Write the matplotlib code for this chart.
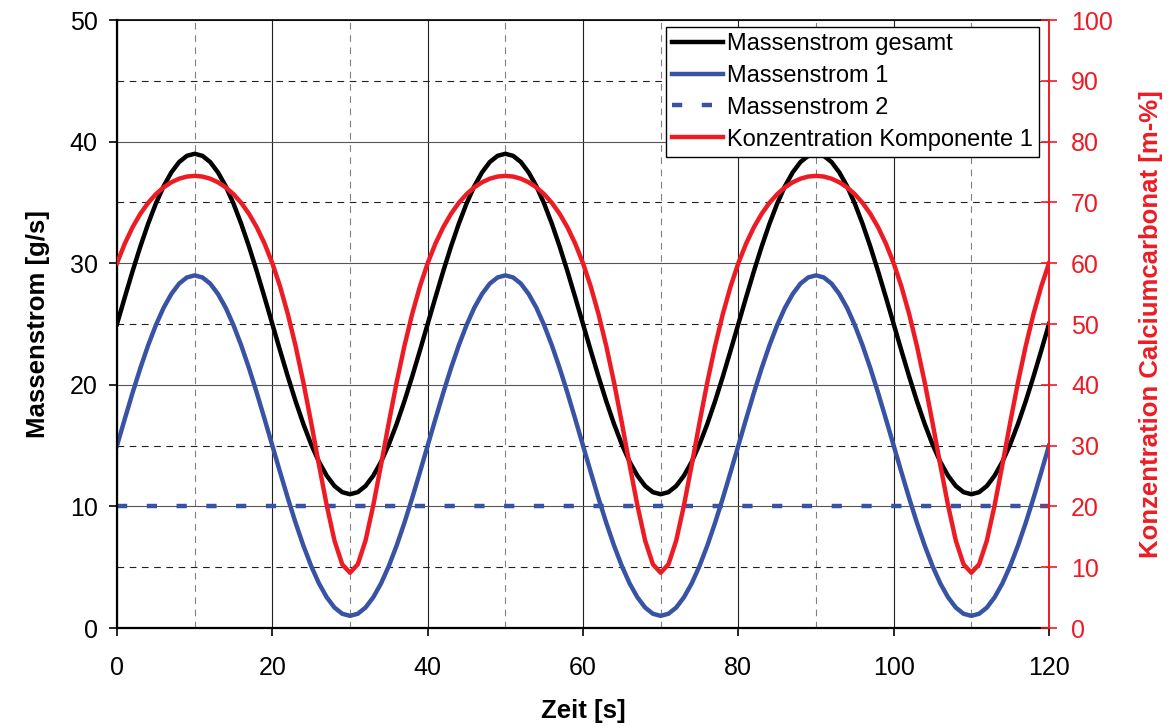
"""Massenstrom und Konzentration ueber der Zeit (zwei y-Achsen)."""
import numpy as np
import matplotlib
matplotlib.use("Agg")
import matplotlib.pyplot as plt
from matplotlib.ticker import MultipleLocator

SCHWARZ = "#000000"
BLAU = "#3953a4"
ROT = "#ed1c24"

plt.rcParams.update({
    "font.family": ["Liberation Sans", "DejaVu Sans"],
    "font.size": 18,
})

zeit = np.arange(0, 121)

massenstrom_1 = [
    15.00, 17.19, 19.33, 21.36, 23.23, 24.90, 26.33, 27.47, 28.32, 28.83,
    29.00, 28.83, 28.32, 27.47, 26.33, 24.90, 23.23, 21.36, 19.33, 17.19,
    15.00, 12.81, 10.67, 8.64, 6.77, 5.10, 3.67, 2.53, 1.68, 1.17,
    1.00, 1.17, 1.68, 2.53, 3.67, 5.10, 6.77, 8.64, 10.67, 12.81,
    15.00, 17.19, 19.33, 21.36, 23.23, 24.90, 26.33, 27.47, 28.32, 28.83,
    29.00, 28.83, 28.32, 27.47, 26.33, 24.90, 23.23, 21.36, 19.33, 17.19,
    15.00, 12.81, 10.67, 8.64, 6.77, 5.10, 3.67, 2.53, 1.68, 1.17,
    1.00, 1.17, 1.68, 2.53, 3.67, 5.10, 6.77, 8.64, 10.67, 12.81,
    15.00, 17.19, 19.33, 21.36, 23.23, 24.90, 26.33, 27.47, 28.32, 28.83,
    29.00, 28.83, 28.32, 27.47, 26.33, 24.90, 23.23, 21.36, 19.33, 17.19,
    15.00, 12.81, 10.67, 8.64, 6.77, 5.10, 3.67, 2.53, 1.68, 1.17,
    1.00, 1.17, 1.68, 2.53, 3.67, 5.10, 6.77, 8.64, 10.67, 12.81,
    15.00,
]

massenstrom_2 = [10.0] * len(zeit)

massenstrom_gesamt = [
    25.00, 27.19, 29.33, 31.36, 33.23, 34.90, 36.33, 37.47, 38.32, 38.83,
    39.00, 38.83, 38.32, 37.47, 36.33, 34.90, 33.23, 31.36, 29.33, 27.19,
    25.00, 22.81, 20.67, 18.64, 16.77, 15.10, 13.67, 12.53, 11.68, 11.17,
    11.00, 11.17, 11.68, 12.53, 13.67, 15.10, 16.77, 18.64, 20.67, 22.81,
    25.00, 27.19, 29.33, 31.36, 33.23, 34.90, 36.33, 37.47, 38.32, 38.83,
    39.00, 38.83, 38.32, 37.47, 36.33, 34.90, 33.23, 31.36, 29.33, 27.19,
    25.00, 22.81, 20.67, 18.64, 16.77, 15.10, 13.67, 12.53, 11.68, 11.17,
    11.00, 11.17, 11.68, 12.53, 13.67, 15.10, 16.77, 18.64, 20.67, 22.81,
    25.00, 27.19, 29.33, 31.36, 33.23, 34.90, 36.33, 37.47, 38.32, 38.83,
    39.00, 38.83, 38.32, 37.47, 36.33, 34.90, 33.23, 31.36, 29.33, 27.19,
    25.00, 22.81, 20.67, 18.64, 16.77, 15.10, 13.67, 12.53, 11.68, 11.17,
    11.00, 11.17, 11.68, 12.53, 13.67, 15.10, 16.77, 18.64, 20.67, 22.81,
    25.00,
]

konzentration_1 = [
    60.00, 63.22, 65.90, 68.11, 69.91, 71.35, 72.47, 73.31, 73.90, 74.25,
    74.36, 74.25, 73.90, 73.31, 72.47, 71.35, 69.91, 68.11, 65.90, 63.22,
    60.00, 56.16, 51.62, 46.35, 40.37, 33.77, 26.85, 20.19, 14.38, 10.47,
    9.09, 10.47, 14.38, 20.19, 26.85, 33.77, 40.37, 46.35, 51.62, 56.16,
    60.00, 63.22, 65.90, 68.11, 69.91, 71.35, 72.47, 73.31, 73.90, 74.25,
    74.36, 74.25, 73.90, 73.31, 72.47, 71.35, 69.91, 68.11, 65.90, 63.22,
    60.00, 56.16, 51.62, 46.35, 40.37, 33.77, 26.85, 20.19, 14.38, 10.47,
    9.09, 10.47, 14.38, 20.19, 26.85, 33.77, 40.37, 46.35, 51.62, 56.16,
    60.00, 63.22, 65.90, 68.11, 69.91, 71.35, 72.47, 73.31, 73.90, 74.25,
    74.36, 74.25, 73.90, 73.31, 72.47, 71.35, 69.91, 68.11, 65.90, 63.22,
    60.00, 56.16, 51.62, 46.35, 40.37, 33.77, 26.85, 20.19, 14.38, 10.47,
    9.09, 10.47, 14.38, 20.19, 26.85, 33.77, 40.37, 46.35, 51.62, 56.16,
    60.00,
]

fig = plt.figure(figsize=(11.69, 7.27), dpi=100)
ax = fig.add_axes([117 / 1169, 1 - 628 / 727, 932 / 1169, 608 / 727])
ax2 = ax.twinx()

# Gitter: Hauptlinien durchgezogen, Nebenlinien gestrichelt
ax.set_xlim(0, 120); ax.set_ylim(0, 50)
ax.xaxis.set_major_locator(MultipleLocator(20)); ax.xaxis.set_minor_locator(MultipleLocator(10))
ax.yaxis.set_major_locator(MultipleLocator(10)); ax.yaxis.set_minor_locator(MultipleLocator(5))
ax.grid(axis="x", which="major", color="#202020", lw=0.8, ls="-")
ax.grid(axis="y", which="major", color="#555555", lw=0.8, ls="-")
ax.grid(axis="x", which="minor", color="#808080", lw=0.8, ls=(0, (6, 5)))
ax.grid(axis="y", which="minor", color="#202020", lw=0.8, ls=(0, (6, 5)))
ax.set_axisbelow(True)

l1, = ax.plot(zeit, massenstrom_gesamt, color=SCHWARZ, lw=3.2, label="Massenstrom gesamt")
l2, = ax.plot(zeit, massenstrom_1, color=BLAU, lw=3.2, label="Massenstrom 1")
l3, = ax.plot(zeit, massenstrom_2, color=BLAU, lw=3.2, dashes=(2.3, 4.4),
              dash_capstyle="butt", label="Massenstrom 2")

ax2.set_ylim(0, 100)
ax2.yaxis.set_major_locator(MultipleLocator(10))
l4, = ax2.plot(zeit, konzentration_1, color=ROT, lw=3.2, label="Konzentration Komponente 1")

ax.set_xlabel("Zeit [s]", fontsize=18.5, fontweight="bold", labelpad=14)
ax.set_ylabel("Massenstrom [g/s]", fontsize=18.5, fontweight="bold", labelpad=14)
ax2.set_ylabel("Konzentration Calciumcarbonat [m-%]", fontsize=18.5, fontweight="bold",
               color=ROT, labelpad=19)

ax.tick_params(axis="both", which="major", direction="out", length=6, width=1.2, labelsize=18)
ax.tick_params(axis="y", pad=8)
ax.tick_params(axis="x", pad=14)
ax.tick_params(which="minor", length=0)
ax2.tick_params(axis="y", direction="inout", length=12, width=1.2, colors=ROT,
                labelsize=18, pad=10)

for s in ["left", "bottom"]:
    ax.spines[s].set_linewidth(1.6)
ax.spines["top"].set_linewidth(1.2)
ax2.spines["top"].set_visible(False)
ax2.spines["left"].set_visible(False)
ax2.spines["bottom"].set_visible(False)
ax2.spines["right"].set_color(ROT)
ax2.spines["right"].set_linewidth(1.4)
ax.spines["right"].set_visible(False)

leg = ax2.legend(handles=[l1, l2, l3, l4], loc="upper right",
                 bbox_to_anchor=(0.9893, 0.9885), borderaxespad=0, fontsize=17,
                 frameon=True, fancybox=False, framealpha=1, edgecolor="black",
                 handlelength=2.15, handletextpad=0.2, labelspacing=0.42, borderpad=0.25)
leg.get_frame().set_linewidth(1.0)

fig.savefig("out.png", dpi=100)
